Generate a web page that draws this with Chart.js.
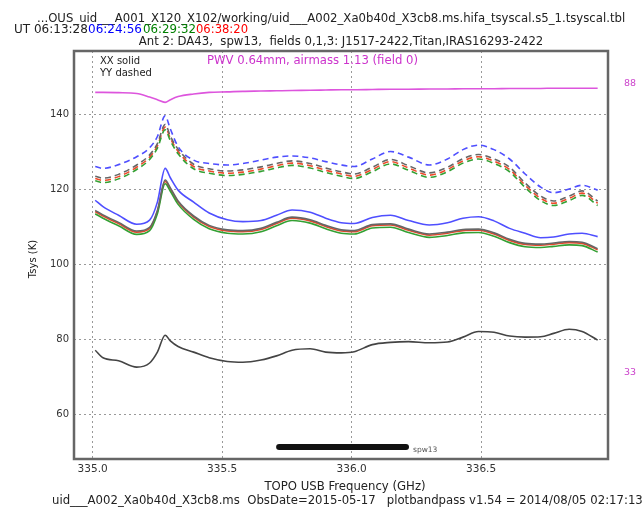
<!DOCTYPE html>
<html>
<head>
<meta charset="utf-8">
<script src="https://cdn.jsdelivr.net/npm/chart.js@4/dist/chart.umd.min.js"></script>
<style>
  html, body { margin: 0; padding: 0; background: #fff; }
  #wrap { width: 643px; height: 513px; position: relative; }
</style>
</head>
<body>
<div id="wrap"><canvas id="tsys"></canvas></div>
<script>
// frequency grid (GHz)
var freqs = [335.01, 335.04, 335.10, 335.17, 335.22, 335.25, 335.28, 335.30, 335.33, 335.39,
  335.45, 335.52, 335.58, 335.65, 335.71, 335.77, 335.84, 335.90, 335.96, 336.01,
  336.08, 336.15, 336.22, 336.30, 336.37, 336.43, 336.49, 336.55, 336.61, 336.67,
  336.73, 336.78, 336.84, 336.89, 336.95];

// YY (dashed)
var yyBlue = [126.0, 125.5, 126.5, 128.6, 131.0, 134.0, 139.5, 136.0, 131.3, 127.7,
  126.8, 126.4, 126.8, 127.7, 128.5, 128.8, 128.3, 127.3, 126.4, 126.0,
  128.0, 130.0, 128.5, 126.4, 128.0, 130.5, 131.7, 130.5, 128.0, 124.0,
  120.5, 119.0, 120.0, 121.0, 119.7];
var yyGray = [123.4, 122.9, 123.9, 126.4, 129.1, 132.1, 137.2, 134.1, 130.6, 126.6,
  125.4, 124.8, 125.1, 125.9, 126.8, 127.5, 126.8, 125.6, 124.6, 124.0,
  125.8, 127.9, 126.2, 124.3, 125.8, 128.1, 129.2, 128.0, 125.8, 121.6,
  118.1, 116.8, 118.1, 119.5, 116.8];
var yyRed = [122.8, 122.3, 123.3, 125.8, 128.5, 131.5, 136.5, 133.5, 130.0, 126.0,
  124.8, 124.2, 124.5, 125.3, 126.2, 126.9, 126.2, 125.0, 124.0, 123.4,
  125.2, 127.3, 125.6, 123.7, 125.2, 127.5, 128.6, 127.4, 125.2, 121.0,
  117.5, 116.2, 117.5, 118.9, 116.2];
var yyGreen = [122.2, 121.7, 122.7, 125.2, 127.9, 130.9, 135.8, 132.9, 129.4, 125.4,
  124.2, 123.6, 123.9, 124.7, 125.6, 126.3, 125.6, 124.4, 123.4, 122.8,
  124.6, 126.7, 125.0, 123.1, 124.6, 126.9, 128.0, 126.8, 124.6, 120.4,
  116.9, 115.6, 116.9, 118.3, 115.6];

// XX (solid)
var xxBlue = [117.0, 115.3, 113.0, 110.6, 111.7, 116.5, 125.5, 123.0, 119.7, 116.5,
  113.6, 111.8, 111.3, 111.6, 113.0, 114.4, 113.8, 112.2, 111.0, 110.8,
  112.4, 113.0, 111.6, 110.4, 111.0, 112.2, 112.6, 111.5, 109.5, 108.2,
  107.0, 107.2, 108.0, 108.2, 107.3];
var xxGray = [114.3, 113.1, 111.1, 108.8, 109.8, 114.3, 122.4, 120.3, 116.8, 112.8,
  110.3, 109.1, 108.9, 109.5, 111.1, 112.5, 111.8, 110.3, 109.1, 108.9,
  110.5, 110.7, 109.3, 108.0, 108.5, 109.2, 109.3, 108.3, 106.6, 105.5,
  105.3, 105.6, 106.0, 105.8, 104.1];
var xxRed = [114.0, 112.8, 110.8, 108.5, 109.5, 114.0, 122.0, 120.0, 116.5, 112.5,
  110.0, 108.8, 108.6, 109.2, 110.8, 112.2, 111.5, 110.0, 108.8, 108.6,
  110.2, 110.4, 109.0, 107.7, 108.2, 108.9, 109.0, 108.0, 106.3, 105.2,
  105.0, 105.3, 105.7, 105.5, 103.8];
var xxGreen = [113.4, 112.2, 110.2, 107.9, 108.9, 113.4, 121.4, 119.4, 115.9, 111.9,
  109.4, 108.2, 108.0, 108.6, 110.2, 111.6, 110.9, 109.4, 108.2, 108.0,
  109.6, 109.8, 108.4, 107.1, 107.6, 108.3, 108.4, 107.4, 105.7, 104.6,
  104.4, 104.7, 105.1, 104.9, 103.2];

// lower dark curve
var lowerCurve = [77.0, 75.0, 74.2, 72.5, 73.6, 76.5, 81.0, 79.5, 78.0, 76.5,
  75.0, 74.0, 73.8, 74.4, 75.5, 77.0, 77.4, 76.5, 76.3, 76.6,
  78.5, 79.1, 79.3, 79.0, 79.2, 80.5, 82.0, 81.8, 80.8, 80.5,
  80.6, 81.5, 82.6, 82.0, 79.7];

// atmospheric transmission (%), right axis
var transmission = [86.4, 86.4, 86.35, 86.2, 85.5, 85.0, 84.5, 85.0, 85.6, 86.1,
  86.4, 86.5, 86.6, 86.65, 86.7, 86.75, 86.8, 86.85, 86.9, 86.9,
  86.95, 87.0, 87.0, 87.05, 87.05, 87.1, 87.1, 87.1, 87.15, 87.15,
  87.15, 87.2, 87.2, 87.2, 87.2];

var yTicks = [60, 80, 100, 120, 140];
var xTicks = [335.0, 335.5, 336.0, 336.5];
var transTicks = [33, 88];
var spwRange = [335.72, 336.21];
var spwLevel = 51.2;

function pts(arr) {
  return freqs.map(function (f, i) { return { x: f, y: arr[i] }; });
}

function line(arr, color, dashed, width) {
  return {
    data: pts(arr),
    borderColor: color,
    borderWidth: width || 1.6,
    borderDash: dashed ? [6, 4] : [],
    pointRadius: 0,
    tension: 0.35,
    cubicInterpolationMode: "monotone",
    fill: false
  };
}

var FONT = "DejaVu Sans";

var decor = {
  id: "decor",
  afterDraw: function (chart) {
    var ctx = chart.ctx;
    var a = chart.chartArea;
    var xs = chart.scales.x;
    var ys = chart.scales.y;
    ctx.save();

    // frame
    ctx.strokeStyle = "#666";
    ctx.lineWidth = 2.5;
    ctx.setLineDash([]);
    ctx.strokeRect(a.left, a.top, a.right - a.left, a.bottom - a.top);

    ctx.textBaseline = "middle";
    ctx.font = "11.7px " + FONT;
    ctx.fillStyle = "#222";
    ctx.textAlign = "left";
    ctx.fillText("...OUS_uid___A001_X120_X102/working/uid___A002_Xa0b40d_X3cb8.ms.hifa_tsyscal.s5_1.tsyscal.tbl", 37, 19, 590);

    ctx.font = "12px " + FONT;
    var parts = [["UT 06:13:28", "#222", 14, 74], ["06:24:56", "#0000ff", 88, 55],
      ["06:29:32", "#008000", 143, 53], ["06:38:20", "#ff0000", 196, 52]];
    parts.forEach(function (p) {
      ctx.fillStyle = p[1];
      ctx.fillText(p[0], p[2], 30, p[3]);
    });

    ctx.font = "11.7px " + FONT;
    ctx.fillStyle = "#222";
    ctx.textAlign = "center";
    ctx.fillText("Ant 2: DA43,  spw13,  fields 0,1,3: J1517-2422,Titan,IRAS16293-2422", 341, 42);

    ctx.fillStyle = "#cc33cc";
    ctx.textAlign = "left";
    ctx.fillText("PWV 0.64mm, airmass 1.13 (field 0)", 207, 61, 211);

    ctx.font = "10px " + FONT;
    ctx.fillStyle = "#222";
    ctx.fillText("XX solid", 100, 61);
    ctx.fillText("YY dashed", 100, 73);

    ctx.font = "11.7px " + FONT;
    ctx.textAlign = "center";
    ctx.fillText("TOPO USB Frequency (GHz)", 345, 487);
    ctx.textAlign = "left";
    ctx.fillText("uid___A002_Xa0b40d_X3cb8.ms  ObsDate=2015-05-17   plotbandpass v1.54 = 2014/08/05 02:17:13 UT", 52, 501);

    // spw label
    ctx.font = "7.5px " + FONT;
    ctx.fillStyle = "#555";
    ctx.fillText("spw13", xs.getPixelForValue(spwRange[1]) + 7, ys.getPixelForValue(spwLevel) + 3);

    // y title
    ctx.font = "10px " + FONT;
    ctx.fillStyle = "#222";
    ctx.translate(33, 259);
    ctx.rotate(-Math.PI / 2);
    ctx.textAlign = "center";
    ctx.fillText("Tsys (K)", 0, 0);
    ctx.restore();
  }
};

var datasets = [
  line(transmission, "#dd55dd", false, 1.6),
  line(lowerCurve, "#444444", false, 1.6),
  line(yyBlue, "#4f4fff", true),
  line(yyGray, "#666666", true),
  line(yyGreen, "#33a033", true),
  line(yyRed, "#ee4a2a", true),
  line(xxBlue, "#4f4fff", false),
  line(xxGray, "#666666", false),
  line(xxGreen, "#33a033", false),
  line(xxRed, "#e5482a", false),
  {
    data: spwRange.map(function (f) { return { x: f, y: spwLevel }; }),
    borderColor: "#111",
    borderWidth: 6,
    borderCapStyle: "round",
    pointRadius: 0,
    fill: false
  }
];
datasets[0].yAxisID = "y2";

new Chart(document.getElementById("tsys"), {
  type: "line",
  data: { datasets: datasets },
  plugins: [decor],
  options: {
    responsive: true,
    maintainAspectRatio: false,
    animation: false,
    layout: { padding: { top: 51, left: 0, right: 0, bottom: 0 } },
    plugins: { legend: { display: false }, tooltip: { enabled: false } },
    scales: {
      x: {
        type: "linear",
        min: 334.928,
        max: 336.99,
        afterFit: function (s) { s.height = 54; },
        afterBuildTicks: function (s) { s.ticks = xTicks.map(function (v) { return { value: v }; }); },
        ticks: {
          font: { family: FONT, size: 10.5 },
          color: "#333",
          padding: 4,
          maxRotation: 0,
          callback: function (v) { return v.toFixed(1); }
        },
        grid: { color: "#999", drawTicks: false, lineWidth: 1 },
        border: { display: false, dash: [2, 3] }
      },
      y: {
        position: "left",
        min: 48,
        max: 156.8,
        afterFit: function (s) { s.width = 74; },
        afterBuildTicks: function (s) { s.ticks = yTicks.map(function (v) { return { value: v }; }); },
        ticks: { font: { family: FONT, size: 10 }, color: "#333", padding: 5 },
        grid: { color: "#999", drawTicks: false, lineWidth: 1 },
        border: { display: false, dash: [2, 3] }
      },
      y2: {
        position: "right",
        min: 16.4,
        max: 94.3,
        afterFit: function (s) { s.width = 35; },
        afterBuildTicks: function (s) { s.ticks = transTicks.map(function (v) { return { value: v }; }); },
        ticks: { font: { family: FONT, size: 9.5 }, color: "#cc44cc", padding: 16 },
        grid: { display: false, drawTicks: false },
        border: { display: false }
      }
    }
  }
});
</script>
</body>
</html>
